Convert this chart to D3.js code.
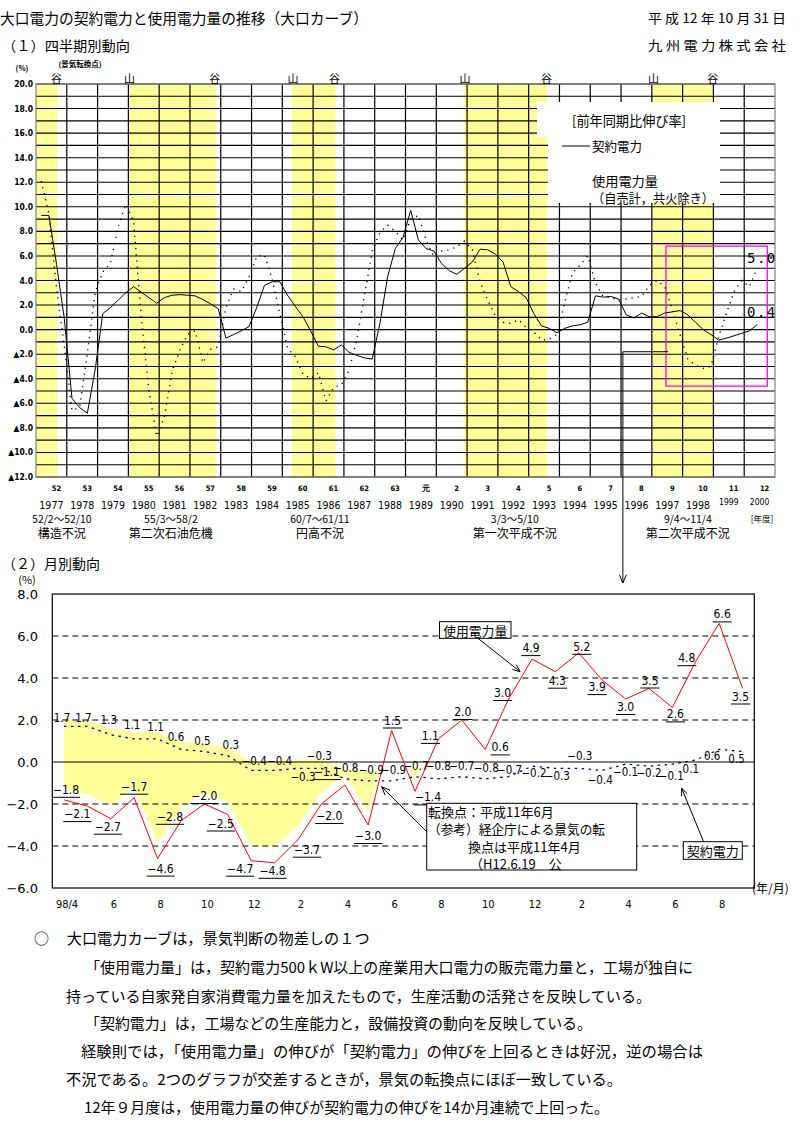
<!DOCTYPE html>
<html><head><meta charset="utf-8">
<script src="https://d3js.org/d3.v7.min.js"></script>
<style>
html,body{margin:0;padding:0;background:#fff;}
svg{display:block;font-family:"Noto Sans CJK JP","Noto Sans",sans-serif;}
</style></head><body>
<svg id="chart" width="807" height="1133"></svg>
<script>
// ================= DATA =================
// (1) quarterly, FY1977 Q1 .. FY2000 Q2, year-on-year growth (%)
const yearLabels = ["1977","1978","1979","1980","1981","1982","1983","1984","1985","1986","1987","1988","1989","1990","1991","1992","1993","1994","1995","1996","1997","1998","1999","2000"];
const eraLabels = ["52","53","54","55","56","57","58","59","60","61","62","63","元","2","3","4","5","6","7","8","9","10","11","12"];
const quarterContract = [
  9.3, 9.3, 5.3, 0.9, -5.6, -6.35, -6.8, -3.3, 1.3, 1.8,
  2.4, 3.0, 3.5, 3.05, 2.6, 2.15, 2.6, 2.8, 2.85, 2.8,
  2.75, 2.45, 2.1, 1.7, -0.7, -0.4, -0.1, 0.25, 1.8, 3.6,
  3.9, 3.9, 2.8, 1.9, 1.05, -0.1, -1.35, -1.4, -1.65, -1.25,
  -1.85, -2.1, -2.3, -2.4, 0.5, 4.3, 6.6, 7.5, 9.7, 7.3,
  6.6, 6.4, 5.4, 4.8, 4.5, 5.0, 5.5, 6.55, 6.5, 6.15,
  5.5, 3.5, 3.1, 2.6, 1.3, 0.3, 0.1, -0.25, 0.1, 0.3,
  0.4, 0.6, 2.75, 2.65, 2.7, 2.5, 1.2, 0.95, 1.35, 1.05,
  1.05, 1.35, 1.45, 1.55, 1.2, 0.6, 0.0, -0.4, -0.85, -0.7,
  -0.5, -0.3, -0.1, 0.4];
const quarterUsage = [
  12.1, 9.4, 3.3, -1.3, -6.6, -6.3, -1.9, 3.0, 4.7, 5.4,
  8.4, 10.2, 8.8, 1.0, -5.0, -8.7, -7.1, -3.4, -1.7, -0.4,
  -0.1, -2.7, -1.6, -1.4, 1.8, 3.3, 3.1, 4.3, 5.95, 6.1,
  4.1, 1.3, -1.5, -2.2, -3.6, -4.0, -3.5, -5.8, -4.7, -4.5,
  -3.3, -0.8, 2.8, 6.4, 7.9, 8.5, 8.0, 7.3, 9.0, 9.3,
  7.3, 5.95, 6.4, 6.5, 6.75, 7.2, 6.5, 3.9, 2.4, 1.1,
  0.6, 0.5, 0.8, 0.2, -0.2, -0.85, -0.8, -0.4, 2.2, 4.6,
  5.25, 6.0, 3.8, 2.7, 2.6, 2.4, 2.5, 2.6, 2.7, 3.6,
  4.0, 3.5, 1.6, -0.4, -2.4, -2.9, -3.15, -3.0, -0.6, 1.3,
  3.1, 4.0, 3.5, 5.0];
const topTicks = [20,18,16,14,12,10,8,6,4,2,0,-2,-4,-6,-8,-10,-12];
// recession periods in fiscal-year units
const recessionStart = [1976.85, 1980.0, 1985.31, 1990.9, 1997.02];
const recessionEnd   = [1977.70, 1982.84, 1986.73, 1993.61, 1999.01];
const recessionLabelFY = [1977.84, 1981.38, 1986.22, 1992.55, 1998.17];
const recessionRange = ["52/2～52/10","55/3～58/2","60/7～61/11","3/3～5/10","9/4～11/4"];
const recessionName = ["構造不況","第二次石油危機","円高不況","第一次平成不況","第二次平成不況"];
const lastContract = "0.4", lastUsage = "5.0";

// (2) monthly, 98/4 .. 00/9
const monthCats = ["98/4","98/5","98/6","98/7","98/8","98/9","98/10","98/11","98/12","99/1","99/2","99/3",
  "99/4","99/5","99/6","99/7","99/8","99/9","99/10","99/11","99/12","00/1","00/2","00/3",
  "00/4","00/5","00/6","00/7","00/8","00/9"];
const monthTickLabels = ["98/4","6","8","10","12","2","4","6","8","10","12","2","4","6","8"];
const monthlyUsage = [-1.8,-2.1,-2.7,-1.7,-4.6,-2.8,-2.0,-2.5,-4.7,-4.8,-3.7,-2.0,-1.1,-3.0,1.5,-1.4,1.1,2.0,0.6,3.0,4.9,4.3,5.2,3.9,3.0,3.5,2.6,4.8,6.6,3.5];
const monthlyContract = [1.7,1.7,1.3,1.1,1.1,0.6,0.5,0.3,-0.4,-0.4,-0.3,-0.3,-0.8,-0.9,-0.9,-0.7,-0.8,-0.7,-0.8,-0.7,-0.2,-0.3,-0.3,-0.4,-0.1,-0.2,-0.1,0.1,0.6,0.5];
const bottomTicks = [8,6,4,2,0,-2,-4,-6];

// label placement (layout only)
const usageLabelOffset = [[2,-10],[-10,8],[-3,8],[0,-11],[3,10],[-11,-4],[0,-8],[-7,9],[-11,8],[-2,8],
  [9,10],[8,12],[-18,-13],[0,11],[1,-10],[13,6],[-8,-3],[1,-8],[15,-2],[-6,-6],
  [-1,-11],[2,9],[3,-6],[-5,7],[0,8],[1,-8],[3,7],[-9,-3],[3,-9],[-2,8]];
const contractLabelOffset = [[-2,-8],[-4,-8],[-2,-15],[-2,-14],[-2,-12],[-5,-12],[-2,-11],[3,-11],[3,-9],[5,-9],
  [5,9],[-2,-12],[1,-11],[3,-11],[2,-11],[1,-11],[0,-13],[0,-11],[1,-11],[1,-7],
  [2,7],[2,8],[1,-12],[-2,10],[0,8],[0,7],[-1,12],[-5,9],[-7,7],[-6,7]];

// ================= DRAW =================
const svg = d3.select("#chart");
svg.append("rect").attr("width",807).attr("height",1133).attr("fill","#fff");
const fmt = d3.format(".1f");

function txt(g, x, y, s, o = {}) {
  const t = g.append("text").attr("x", x).attr("y", y).text(s)
    .attr("font-size", o.size || 12).attr("text-anchor", o.anchor || "start")
    .attr("dominant-baseline", "central").attr("fill", o.fill || "#000");
  if (o.len) t.attr("textLength", o.len).attr("lengthAdjust", "spacingAndGlyphs");
  if (o.weight) t.attr("font-weight", o.weight);
  if (o.family) t.attr("font-family", o.family);
  if (o.ls) t.attr("letter-spacing", o.ls);
  return t;
}
function arrow(g, x1, y1, x2, y2, head = 8) {
  g.append("line").attr("x1",x1).attr("y1",y1).attr("x2",x2).attr("y2",y2).attr("stroke","#000").attr("stroke-width",1);
  const a = Math.atan2(y2 - y1, x2 - x1);
  [0.4, -0.4].forEach(d => {
    g.append("line").attr("x1", x2).attr("y1", y2)
      .attr("x2", x2 - head * Math.cos(a + d)).attr("y2", y2 - head * Math.sin(a + d))
      .attr("stroke","#000").attr("stroke-width",1);
  });
}

// ---- headers ----
txt(svg, 0, 17, "大口電力の契約電力と使用電力量の推移（大口カーブ）", {size:15, len:368});
txt(svg, 2, 45, "（１）四半期別動向", {size:14, len:128});
txt(svg, 648, 17, "平 成 12 年 10 月 31 日", {size:13, len:138});
txt(svg, 648, 44, "九 州 電 力 株 式 会 社", {size:13, len:138});

// ---- (1) quarterly chart ----
const TP = {l:36, r:775, t:84, b:477};
const xFY = d3.scaleLinear().domain([1977, 2001]).range([TP.l, TP.r]);
const yT = d3.scaleLinear().domain([-12, 20]).range([TP.b, TP.t]);
const gT = svg.append("g");
const qx = i => xFY(1977 + (i + 0.675) / 4);

recessionStart.forEach((s, i) => {
  const x0 = xFY(Math.max(s, 1977)), x1 = xFY(recessionEnd[i]);
  gT.append("rect").attr("x", x0).attr("y", TP.t).attr("width", x1 - x0).attr("height", TP.b - TP.t).attr("fill", "#ffff99");
});
d3.range(yT.domain()[0], yT.domain()[1] + 1, 1).forEach(v => {
  gT.append("line").attr("x1", TP.l).attr("x2", TP.r).attr("y1", yT(v)).attr("y2", yT(v)).attr("stroke", "#000").attr("stroke-width", 1.1);
});
yearLabels.slice(1).forEach(y => {
  const x = xFY(+y);
  gT.append("line").attr("x1", x).attr("x2", x).attr("y1", TP.t).attr("y2", TP.b).attr("stroke", "#000").attr("stroke-width", 1.2);
});
gT.append("rect").attr("x", TP.l).attr("y", TP.t).attr("width", TP.r - TP.l).attr("height", TP.b - TP.t)
  .attr("fill", "none").attr("stroke", "#808080").attr("stroke-width", 1.2);

// legend box
gT.append("rect").attr("x", 537).attr("y", 102).attr("width", 183).attr("height", 35).attr("fill", "#fff");
gT.append("rect").attr("x", 548).attr("y", 102).attr("width", 172).attr("height", 101).attr("fill", "#fff");
txt(gT, 572, 120, "[前年同期比伸び率]", {size:13.5, len:114});
gT.append("line").attr("x1", 562).attr("x2", 590).attr("y1", 146).attr("y2", 146).attr("stroke", "#000");
txt(gT, 592, 145, "契約電力", {size:13, len:50});
txt(gT, 592, 180, "使用電力量", {size:13, len:66});
txt(gT, 592, 197, "（自売計，共火除き）", {size:13, len:122});

// highlight box (recent period)
gT.append("rect").attr("x", xFY(1997.46)).attr("y", yT(6.8)).attr("width", xFY(2000.75) - xFY(1997.46)).attr("height", yT(-4.6) - yT(6.8))
  .attr("fill", "none").attr("stroke", "#ff00ff").attr("stroke-width", 1.3);

// series
const lineQ = d3.line().x((d, i) => qx(i)).y(d => yT(d));
gT.append("path").datum(quarterUsage).attr("d", lineQ).attr("fill", "none").attr("stroke", "#000")
  .attr("stroke-width", 1.4).attr("stroke-dasharray", "1.2,5");
gT.append("path").datum(quarterContract).attr("d", lineQ).attr("fill", "none").attr("stroke", "#000").attr("stroke-width", 1);

txt(gT, 747, yT(5.8), lastUsage, {size:14, ls:1.5, family:"DejaVu Sans Mono"});
txt(gT, 747, yT(1.4), lastContract, {size:14, ls:1.5, family:"DejaVu Sans Mono"});

// y labels
topTicks.forEach(v => {
  const s = v < 0 ? "▲" + fmt(-v) : fmt(v);
  txt(gT, 33, yT(v), s, {size:8.5, anchor:"end", weight:"bold", family:"DejaVu Sans Condensed"});
});
txt(gT, 22, 67, "(%)", {size:7.5, anchor:"middle", weight:"bold"});
txt(gT, 80, 63, "(景気転換点)", {size:7.5, anchor:"middle", weight:"bold"});

// turning points
recessionEnd.forEach(e => txt(gT, xFY(e) - 1, 78, "谷", {size:11, anchor:"middle"}));
recessionStart.forEach(s => { if (s >= 1977) txt(gT, xFY(s) + 1, 78, "山", {size:11, anchor:"middle"}); });

// x labels
yearLabels.forEach((y, i) => {
  const cx = xFY(+y + 0.5);
  txt(gT, cx + 5, 488, eraLabels[i], {size:7.5, anchor:"middle", weight:"bold", family:"DejaVu Sans Condensed"});
  const small = +y >= 1999;
  txt(gT, cx, small ? 502 : 505, y, {size: small ? 8.5 : 10.5, anchor:"middle", family:"DejaVu Sans Condensed"});
});
txt(gT, 762, 518, "[年度]", {size:8.5, anchor:"middle"});
recessionLabelFY.forEach((f, i) => {
  txt(gT, xFY(f), 518, recessionRange[i], {size:10.5, anchor:"middle"});
  txt(gT, xFY(f), 532, recessionName[i], {size:12, anchor:"middle"});
});

// connector from upper chart to lower chart
const cX = xFY(1996.06), cY = yT(-1.8);
gT.append("line").attr("x1", xFY(1997.53)).attr("x2", cX).attr("y1", cY).attr("y2", cY).attr("stroke", "#000");
arrow(gT, cX, cY, cX, 583, 9);

// ---- (2) monthly chart ----
txt(svg, 2, 563, "（２）月別動向", {size:14, len:98});
const BP = {l:52.3, r:754.3, t:594, b:888};
const xM = d3.scalePoint().domain(monthCats).range([BP.l, BP.r]).padding(0.5);
const yB = d3.scaleLinear().domain([-6, 8]).range([BP.b, BP.t]);
const yFill = d3.scaleLinear().domain([-6, 8]).range([870, 598.5]);
const gB = svg.append("g");

// recession-signal fill (contract above usage)
const pts = [];
monthCats.forEach((m, i) => {
  pts.push({x: xM(m), b: monthlyContract[i], r: monthlyUsage[i]});
  if (i < monthCats.length - 1) {
    const d0 = monthlyContract[i] - monthlyUsage[i], d1 = monthlyContract[i + 1] - monthlyUsage[i + 1];
    if (d0 * d1 < 0) {
      const t = d0 / (d0 - d1);
      const xa = xM(m), xb = xM(monthCats[i + 1]);
      const bv = monthlyContract[i] + t * (monthlyContract[i + 1] - monthlyContract[i]);
      pts.push({x: xa + t * (xb - xa), b: bv, r: bv});
    }
  }
});
gB.append("path").datum(pts)
  .attr("d", d3.area().x(d => d.x).y0(d => yFill(Math.min(d.r, d.b))).y1(d => yFill(d.b)))
  .attr("fill", "#ffff99");

bottomTicks.forEach(v => {
  if (v === 8 || v === -6) return;
  gB.append("line").attr("x1", BP.l).attr("x2", BP.r).attr("y1", yB(v)).attr("y2", yB(v))
    .attr("stroke", "#000").attr("stroke-width", 1).attr("stroke-dasharray", v === 0 ? null : "6,4");
});
gB.append("rect").attr("x", BP.l).attr("y", BP.t).attr("width", BP.r - BP.l).attr("height", BP.b - BP.t)
  .attr("fill", "none").attr("stroke", "#000").attr("stroke-width", 1.2);
bottomTicks.forEach(v => txt(gB, 38, yB(v), fmt(v), {size:13, anchor:"end", family:"DejaVu Sans"}));
txt(gB, 27, 579, "(%)", {size:11, anchor:"middle"});
monthTickLabels.forEach((s, k) => txt(gB, xM(monthCats[2 * k]) + 3, 904, s, {size:11, anchor:"middle", family:"DejaVu Sans Condensed"}));
txt(gB, 752, 887, "(年/月)", {size:12});

// lines
const lineM = d3.line().x((d, i) => xM(monthCats[i])).y(d => yB(d));
gB.append("path").datum(monthlyContract).attr("d", lineM).attr("fill", "none").attr("stroke", "#000080")
  .attr("stroke-width", 1.3).attr("stroke-dasharray", "2.5,4.5");
gB.append("path").datum(monthlyUsage).attr("d", lineM).attr("fill", "none").attr("stroke", "#ff0000").attr("stroke-width", 1);

// value labels
monthlyContract.forEach((v, i) => {
  const [dx, dy] = contractLabelOffset[i];
  txt(gB, xM(monthCats[i]) + dx, yB(v) + dy, fmt(v), {size:11.5, anchor:"middle", family:"DejaVu Sans Condensed"});
});
monthlyUsage.forEach((v, i) => {
  const [dx, dy] = usageLabelOffset[i];
  const x = xM(monthCats[i]) + dx, y = yB(v) + dy;
  const t = txt(gB, x, y, fmt(v), {size:12, anchor:"middle", family:"DejaVu Sans Condensed"});
  const w = t.node().getComputedTextLength();
  gB.append("line").attr("x1", x - w / 2 - 1).attr("x2", x + w / 2 + 1).attr("y1", y + 7.5).attr("y2", y + 7.5).attr("stroke", "#000");
});

// annotations
gB.append("rect").attr("x", 439.5).attr("y", 621.7).attr("width", 71.5).attr("height", 16.6).attr("fill", "#fff").attr("stroke", "#000");
txt(gB, 475.2, 630, "使用電力量", {size:13, anchor:"middle", len:64});
arrow(gB, 478, 638.3, xM(monthCats[19]) + 11.5, yB(4.3), 8);

gB.append("rect").attr("x", 683.3).attr("y", 841.7).attr("width", 59).attr("height", 17.6).attr("fill", "#fff").attr("stroke", "#000");
txt(gB, 712.8, 850.5, "契約電力", {size:13, anchor:"middle", len:52});
arrow(gB, 703.3, 841, xM(monthCats[26]) + 9.3, yB(-1.25), 8);

gB.append("rect").attr("x", 426.7).attr("y", 803.3).attr("width", 210).attr("height", 66.7).attr("fill", "#fff").attr("stroke", "#000");
txt(gB, 428, 811, "転換点：平成11年6月", {size:13});
txt(gB, 428, 828, "（参考）経企庁による景気の転", {size:13, len:177});
txt(gB, 468, 846, "換点は平成11年4月", {size:13});
txt(gB, 470, 863, "（H12.6.19　公", {size:13});
arrow(gB, 426.7, 831.7, xM(monthCats[13]) + 13.5, yB(-1.18), 9);

// ---- notes ----
const gN = svg.append("g");
txt(gN, 34, 937, "○", {size:15});
txt(gN, 66.7, 937, "大口電力カーブは，景気判断の物差しの１つ", {size:15, len:303});
txt(gN, 85, 966, "「使用電力量」は，契約電力500ｋW以上の産業用大口電力の販売電力量と，工場が独自に", {size:15, len:608});
txt(gN, 66, 995, "持っている自家発自家消費電力量を加えたもので，生産活動の活発さを反映している。", {size:15, len:585});
txt(gN, 85, 1022, "「契約電力」は，工場などの生産能力と，設備投資の動向を反映している。", {size:15, len:507});
txt(gN, 81, 1050, "経験則では，「使用電力量」の伸びが「契約電力」の伸びを上回るときは好況，逆の場合は", {size:15, len:622});
txt(gN, 66, 1078, "不況である。2つのグラフが交差するときが，景気の転換点にほぼ一致している。", {size:15, len:556});
txt(gN, 84, 1106, "12年９月度は，使用電力量の伸びが契約電力の伸びを14か月連続で上回った。", {size:15, len:525});
</script>
</body></html>
